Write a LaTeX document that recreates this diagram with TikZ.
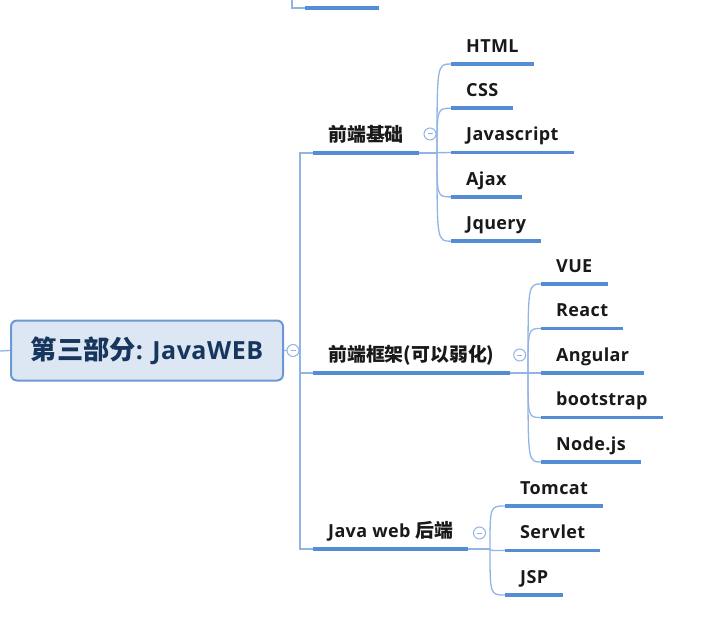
\documentclass[tikz,border=0pt]{standalone}
\usepackage{fontspec}
\setmainfont{Open Sans}[LetterSpace=2]
\newfontfamily\cjk{Noto Sans CJK SC}[Scale=1.05]
\usetikzlibrary{positioning}
\definecolor{lineblue}{RGB}{84,141,212}
\definecolor{thinblue}{RGB}{146,180,228}
\definecolor{rootfill}{RGB}{221,231,243}
\definecolor{rootdraw}{RGB}{108,152,212}
\definecolor{roottext}{RGB}{23,54,93}
\tikzset{
  topic/.style={anchor=south west, inner xsep=15pt, inner ysep=0pt,
    text height=13pt, text depth=11.5pt, text=black!90,
    font=\bfseries\fontsize{18}{21}\selectfont},
  rootbox/.style={draw=rootdraw, fill=rootfill, line width=2pt,
    rounded corners=6pt, minimum width=272pt, minimum height=60pt,
    text=roottext, font=\bfseries\fontsize{25}{30}\selectfont},
  uline/.style={draw=lineblue, line width=3.8pt},
  branch/.style={draw=thinblue, line width=1.3pt},
  fold/.style={circle, draw=thinblue, fill=white, line width=1pt,
    minimum size=12pt, inner sep=0pt,
    path picture={\draw[thinblue, line width=1pt]
      ([xshift=-2.5pt]path picture bounding box.center) --
      ([xshift=2.5pt]path picture bounding box.center);}},
}
\begin{document}
\begin{tikzpicture}[x=1pt, y=-1pt]
   \useasboundingbox (0,0) rectangle (706,620);

   % end of the part above
   \coordinate (prev-a) at (292,0);
   \coordinate (prev-b) at (305,8);
   \coordinate (prev-c) at (379,8);
   \draw[branch] (prev-a) |- (prev-b);
   \draw[uline] (prev-b) -- (prev-c);

   % root
   \coordinate (in) at (0,351);
   \node[rootbox] (root) at (147,350.5) {{\cjk 第三部分}: JavaWEB};
   \coordinate (hub) at (300,351);

   % first level
   \node[topic] (fw) at (313,373) {{\cjk 前端框架(可以弱化)}};
   \node[topic, above=220pt of fw.south west, anchor=south west] (fe) {{\cjk 前端基础}};
   \node[topic, below=176pt of fw.south west, anchor=south west] (jw) {Java web {\cjk 后端}};

   % second level
   \coordinate (fe-j) at (437,153);
   \node[topic, above right=89pt and 14pt of fe-j, anchor=south west] (html) {HTML};
   \node[topic, below=44.3pt of html.south west, anchor=south west] (css) {CSS};
   \node[topic, below=44.3pt of css.south west, anchor=south west] (js) {Javascript};
   \node[topic, below=44.3pt of js.south west, anchor=south west] (ajax) {Ajax};
   \node[topic, below=44.3pt of ajax.south west, anchor=south west] (jq) {Jquery};

   \coordinate (fw-j) at (528,373);
   \node[topic, above right=89pt and 13pt of fw-j, anchor=south west] (vue) {VUE};
   \node[topic, below=44.5pt of vue.south west, anchor=south west] (react) {React};
   \node[topic, below=44.5pt of react.south west, anchor=south west] (ng) {Angular};
   \node[topic, below=44.5pt of ng.south west, anchor=south west] (bs) {bootstrap};
   \node[topic, below=44.5pt of bs.south west, anchor=south west] (node) {Node.js};

   \coordinate (jw-j) at (490,549);
   \node[topic, above right=43pt and 15pt of jw-j, anchor=south west] (tomcat) {Tomcat};
   \node[topic, below=44.5pt of tomcat.south west, anchor=south west] (servlet) {Servlet};
   \node[topic, below=44.5pt of servlet.south west, anchor=south west] (jsp) {JSP};

   % connectors
   \draw[branch] (in) -- (root.west);
   \draw[branch] (root.east) -- (hub);
   \foreach \c in {fe,fw,jw}
      \draw[branch] (hub) |- (\c.south west);
   \draw[branch] (fe.south east) -- (fe-j);
   \draw[branch] (fw.south east) -- (fw-j);
   \draw[branch] (jw.south east) -- (jw-j);
   \foreach \c in {html,css,js,ajax,jq}
      \draw[branch] (fe-j) .. controls (fe-j |- \c.south west) and (fe-j |- \c.south west) .. (\c.south west);
   \foreach \c in {vue,react,ng,bs,node}
      \draw[branch] (fw-j) .. controls (fw-j |- \c.south west) and (fw-j |- \c.south west) .. (\c.south west);
   \foreach \c in {tomcat,servlet,jsp}
      \draw[branch] (jw-j) .. controls (jw-j |- \c.south west) and (jw-j |- \c.south west) .. (\c.south west);

   % underlines
   \foreach \n in {fe,fw,jw,html,css,js,ajax,jq,vue,react,ng,bs,node,tomcat,servlet,jsp}
      \draw[uline] (\n.south west) -- (\n.south east);

   % fold marks
   \node[fold] (root-f) at ([xshift=9pt]root.east) {};
   \node[fold] (fe-f) at ([xshift=11pt,yshift=19pt]fe.south east) {};
   \node[fold] (fw-f) at ([xshift=10pt,yshift=18pt]fw.south east) {};
   \node[fold] (jw-f) at ([xshift=11pt,yshift=16pt]jw.south east) {};
\end{tikzpicture}
\end{document}
